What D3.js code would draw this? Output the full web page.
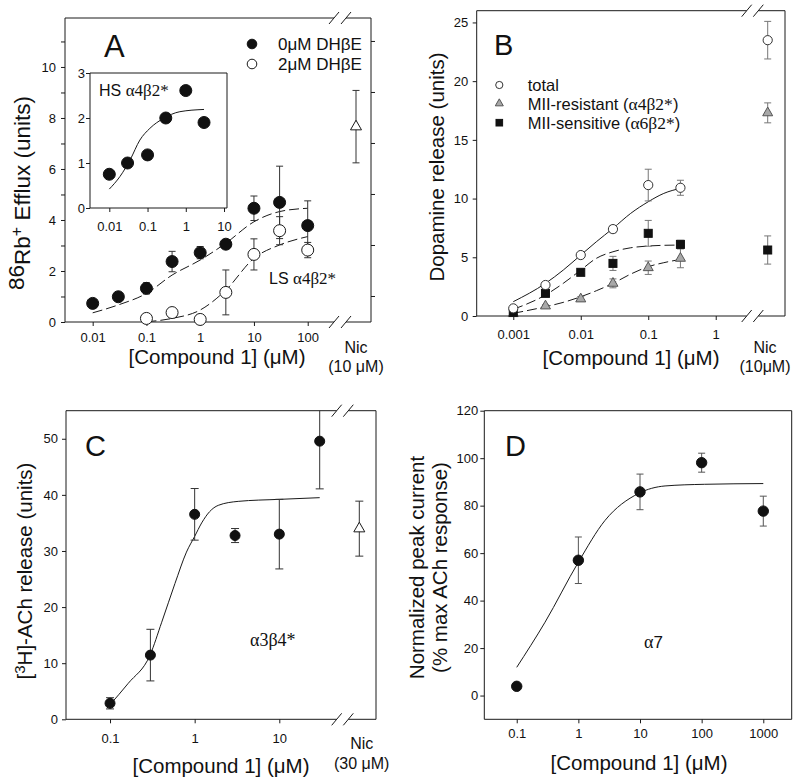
<!DOCTYPE html>
<html><head><meta charset="utf-8">
<script src="https://cdn.jsdelivr.net/npm/d3@7"></script>
<style>
body{margin:0;background:#fff}
svg{display:block}
text{font-family:"Liberation Sans",Arial,Helvetica,sans-serif;fill:#111}
</style>
</head><body>
<svg id="c" width="800" height="784"></svg>
<script>
// ---------------- DATA ----------------
// Panel A (86Rb+ efflux)
const concA0 = [0.01, 0.03, 0.1, 0.3, 1, 3, 10, 30, 100];
const effluxA0 = [0.73, 0.99, 1.32, 2.37, 2.72, 3.05, 4.46, 4.69, 3.78];
const errA0 = [0, 0, 0.22, 0.4, 0.24, 0.17, 0.48, 1.42, 0.97];
const concA2 = [0.1, 0.3, 1, 3, 10, 30, 100];
const effluxA2 = [0.14, 0.37, 0.1, 1.16, 2.65, 3.58, 2.82];
const errA2 = [0.05, 0.05, 0.08, 0.88, 0.61, 0.55, 0.3];
const nicA = 7.66, nicErrA = 1.42;
const fitA0x = [0.01, 0.03, 0.1, 0.3, 1, 3, 10, 30, 100];
const fitA0y = [0.36, 0.67, 1.12, 1.84, 2.43, 3.09, 3.93, 4.33, 4.46];
const fitA2x = [0.1, 0.3, 1, 3, 10, 30, 100];
const fitA2y = [0.01, 0.14, 0.47, 1.25, 2.5, 3.02, 3.35];
const xTicksA = [0.01, 0.1, 1, 10, 100];
const yTicksA = [0, 2, 4, 6, 8, 10];
// Inset (HS a4b2*)
const concIn = [0.01, 0.03, 0.1, 0.3, 1, 3];
const effluxIn = [0.75, 1.0, 1.18, 2.0, 2.61, 1.9];
const fitInx = [0.01, 0.019, 0.035, 0.063, 0.115, 0.26, 0.7, 3];
const fitIny = [0.42, 0.70, 1.07, 1.51, 1.77, 1.99, 2.14, 2.19];
const xTicksIn = [0.01, 0.1, 1, 10];
const yTicksIn = [0, 1, 2, 3];
// Panel B (dopamine release)
const concB = [0.001, 0.003, 0.01, 0.03, 0.1, 0.3];
const totalB = [0.65, 2.64, 5.19, 7.4, 11.15, 10.92];
const totalErrB = [0.1, 0.2, 0.2, 0.3, 1.35, 0.64];
const resistB = [0.2, 0.85, 1.45, 2.78, 4.11, 4.91];
const resistErrB = [0.1, 0.1, 0.2, 0.38, 0.57, 0.8];
const sensB = [0.31, 1.93, 3.72, 4.48, 7.04, 6.1];
const sensErrB = [0.1, 0.3, 0.2, 0.6, 1.1, 0.35];
const nicB = {total: 23.49, resist: 17.3, sens: 5.62};
const nicErrB = {total: 1.6, resist: 0.85, sens: 1.2};
const fitBx = [0.001, 0.003, 0.0055, 0.01, 0.017, 0.03, 0.055, 0.1, 0.17, 0.3];
const fitTotalB = [1.22, 2.78, 3.91, 5.19, 6.32, 7.46, 8.74, 9.73, 10.44, 10.87];
const fitSensB = [0.57, 1.79, 2.78, 3.91, 4.91, 5.47, 5.81, 5.96, 6.02, 6.04];
const fitResistB = [0.23, 0.79, 1.16, 1.64, 2.15, 2.78, 3.57, 4.2, 4.54, 4.82];
const xTicksB = [0.001, 0.01, 0.1, 1];
const yTicksB = [0, 5, 10, 15, 20, 25];
// Panel C ([3H]-ACh release)
const concC = [0.1, 0.3, 1, 3, 10, 30];
const achC = [2.85, 11.44, 36.53, 32.75, 33.0, 49.57];
const errC = [1.0, 4.6, 4.6, 1.25, 6.2, 8.5];
const nicC = 33.98, nicErrC = 4.9;
const fitCx = [0.1, 0.164, 0.297, 0.408, 0.585, 0.8, 1.0, 1.21, 1.5, 1.9, 3.27, 10, 30];
const fitCy = [2.6, 6.4, 11.44, 17.3, 24.2, 29.8, 32.6, 35.0, 37.0, 38.13, 38.84, 39.2, 39.5];
const xTicksC = [0.1, 1, 10];
const yTicksC = [0, 10, 20, 30, 40, 50];
// Panel D (a7 peak current)
const concD = [0.1, 1, 10, 100, 1000];
const currD = [3.9, 57, 85.8, 98.1, 77.7];
const errD = [0, 9.8, 7.5, 4, 6.3];
const fitDx = [0.1, 0.288, 1, 2.71, 9.4, 25.5, 112, 1000];
const fitDy = [11.9, 30.9, 56.2, 73.8, 85.1, 88.3, 89, 89.3];
const xTicksD = [0.1, 1, 10, 100, 1000];
const yTicksD = [0, 20, 40, 60, 80, 100, 120];

// ---------------- HELPERS ----------------
const SANS = '"Liberation Sans", Arial, Helvetica, sans-serif';
const SERIF = '"Liberation Serif", "Times New Roman", serif';
const INK = '#1a1a1a';
const svg = d3.select('#c');
const zip = (xs, ys, es) => xs.map((c, i) => ({c: c, v: ys[i], e: es ? es[i] : 0}));

function panel(o) {
  const g = svg.append('g');
  const x = d3.scaleLog().domain(o.xDomain).range([o.left, o.xEnd]);
  const y = d3.scaleLinear().domain(o.yDomain).range([o.bottom, o.top]);
  if (o.bg) g.append('rect').attr('x', o.left).attr('y', o.top)
      .attr('width', o.right - o.left).attr('height', o.bottom - o.top).attr('fill', '#fff');
  const fr = g.append('g').attr('stroke', INK).attr('stroke-width', 1).attr('fill', 'none');
  const L = (x1, y1, x2, y2) => fr.append('line').attr('x1', x1).attr('y1', y1).attr('x2', x2).attr('y2', y2);
  L(o.left, o.top, o.left, o.bottom);
  L(o.right, o.top, o.right, o.bottom);
  if (o.slashes) {
    const [s1, s2] = o.slashes;
    [o.top, o.bottom].forEach(yy => {
      L(o.left, yy, s1, yy); L(s2, yy, o.right, yy);
      L(s1 - 5, yy + 6, s1 + 5, yy - 6); L(s2 - 5, yy + 6, s2 + 5, yy - 6);
    });
  } else {
    L(o.left, o.top, o.right, o.top); L(o.left, o.bottom, o.right, o.bottom);
  }
  const fs = o.tickFont || 13;
  const ax = g.append('g').attr('transform', `translate(0,${o.bottom})`)
    .call(d3.axisBottom(x).tickValues(o.xTicks).tickFormat(d => String(d)).tickSize(4).tickPadding(o.xPad));
  const ay = g.append('g').attr('transform', `translate(${o.left},0)`)
    .call(d3.axisLeft(y).tickValues(o.yTicksAll || o.yTicks)
      .tickFormat(d => o.yTicks.includes(d) ? String(d) : '').tickSize(4).tickPadding(o.yPad));
  [ax, ay].forEach(a => {
    a.select('.domain').remove();
    a.selectAll('line').attr('stroke', INK);
    a.selectAll('text').attr('font-size', fs).attr('font-family', SANS).attr('fill', '#111');
  });
  return {g, x, y, o};
}

function fitLine(P, xs, ys, dash) {
  const line = d3.line().x(d => P.x(d[0])).y(d => P.y(d[1])).curve(d3.curveMonotoneX);
  P.g.append('path').datum(xs.map((c, i) => [c, ys[i]]))
    .attr('d', line).attr('fill', 'none').attr('stroke', INK).attr('stroke-width', 1)
    .attr('stroke-dasharray', dash || null);
}

function errBars(P, pts, color, cap) {
  pts.forEach(p => {
    if (!p.e) return;
    const cx = p.px != null ? p.px : P.x(p.c);
    const y1 = P.y(p.v - p.e), yRaw = P.y(p.v + p.e);
    const y2 = Math.max(P.o.top, yRaw);
    const gg = P.g.append('g').attr('stroke', color).attr('stroke-width', 1);
    gg.append('line').attr('x1', cx).attr('x2', cx).attr('y1', y1).attr('y2', y2);
    gg.append('line').attr('x1', cx - cap).attr('x2', cx + cap).attr('y1', y1).attr('y2', y1);
    if (yRaw >= P.o.top) gg.append('line').attr('x1', cx - cap).attr('x2', cx + cap).attr('y1', y2).attr('y2', y2);
  });
}

function mark(g, type, cx, cy, s, fill, stroke) {
  if (type === 'circle') {
    g.append('circle').attr('cx', cx).attr('cy', cy).attr('r', s).attr('fill', fill).attr('stroke', stroke).attr('stroke-width', 1);
  } else if (type === 'square') {
    g.append('rect').attr('x', cx - s).attr('y', cy - s).attr('width', 2 * s).attr('height', 2 * s).attr('fill', fill).attr('stroke', stroke).attr('stroke-width', 1);
  } else {
    const h = s * 1.75;
    g.append('path').attr('d', `M${cx},${cy - 2 * h / 3}L${cx + s},${cy + h / 3}L${cx - s},${cy + h / 3}Z`)
      .attr('fill', fill).attr('stroke', stroke).attr('stroke-width', 1);
  }
}

function markers(P, pts, type, s, fill, stroke) {
  pts.forEach(p => mark(P.g, type, p.px != null ? p.px : P.x(p.c), P.y(p.v), s, fill, stroke));
}

function txt(x, y, str, size, opts) {
  opts = opts || {};
  const t = svg.append('text').attr('x', x).attr('y', y).attr('font-size', size)
    .attr('text-anchor', opts.anchor || 'start').attr('fill', '#111');
  if (str) t.text(str);
  if (opts.rotate) t.attr('transform', `rotate(-90,${x},${y})`);
  return t;
}

function greekLabel(x, y, parts, size) {
  const t = txt(x, y, '', size);
  parts.forEach(p => t.append('tspan').attr('font-family', p[1] ? SERIF : SANS)
    .attr('font-size', p[1] ? size + 1 : size).text(p[0]));
  return t;
}

// ---------------- PANEL A ----------------
const A = panel({left: 65, right: 371, top: 18, bottom: 322, xEnd: 337,
  xDomain: [Math.pow(10, -2.515), Math.pow(10, 2.545)], yDomain: [0, 11.92],
  slashes: [334, 346], xTicks: xTicksA, yTicks: yTicksA, yTicksAll: d3.range(0, 12),
  xPad: 7, yPad: 5});
[1, 3, 5, 7, 9, 11].forEach(v => A.g.append('line').attr('x1', 371).attr('x2', 375)
  .attr('y1', A.y(v)).attr('y2', A.y(v)).attr('stroke', INK));
fitLine(A, fitA0x, fitA0y, '10,4');
fitLine(A, fitA2x, fitA2y, '10,4');
const ptsA0 = zip(concA0, effluxA0, errA0), ptsA2 = zip(concA2, effluxA2, errA2);
const nicPtA = [{c: null, v: nicA, e: nicErrA, px: 356}];
errBars(A, ptsA2, '#333', 3.5); errBars(A, ptsA0, '#333', 3.5); errBars(A, nicPtA, '#333', 3.5);
markers(A, ptsA2, 'circle', 6, '#fff', INK);
markers(A, ptsA0, 'circle', 6, '#111', '#111');
markers(A, nicPtA, 'triangle', 5.5, '#fff', INK);
txt(104, 57, 'A', 31);
mark(svg, 'circle', 252, 44, 4.8, '#111', '#111');
mark(svg, 'circle', 252, 64, 4.8, '#fff', INK);
txt(278, 50, '0\u03BCM DH\u03B2E', 17);
txt(278, 70, '2\u03BCM DH\u03B2E', 17);
greekLabel(269, 284, [['LS ', 0], ['\u03B14\u03B22*', 1]], 16);
txt(217, 363.5, '[Compound 1] (\u03BCM)', 20.5, {anchor: 'middle'});
txt(356, 353, 'Nic', 16, {anchor: 'middle'});
txt(356, 372, '(10 \u03BCM)', 16, {anchor: 'middle'});
{
  const t = txt(30, 193, '', 22.5, {anchor: 'middle', rotate: true});
  t.append('tspan').attr('dy', -6).text('86');
  t.append('tspan').attr('dy', 6).text('Rb');
  t.append('tspan').attr('dy', -8).attr('font-size', 16).text('+');
  t.append('tspan').attr('dy', 8).text(' Efflux (units)');
}
// Inset
const I = panel({left: 90, right: 227, top: 73, bottom: 208, xEnd: 227, bg: true,
  xDomain: [Math.pow(10, -2.505), Math.pow(10, 1.078)], yDomain: [0, 3],
  xTicks: xTicksIn, yTicks: yTicksIn, xPad: 10, yPad: 1});
fitLine(I, fitInx, fitIny, null);
markers(I, zip(concIn, effluxIn), 'circle', 6, '#111', '#111');
greekLabel(99, 96, [['HS ', 0], ['\u03B14\u03B22*', 1]], 16);

// ---------------- PANEL B ----------------
const B = panel({left: 476.7, right: 785, top: 10.7, bottom: 316, xEnd: 750,
  xDomain: [Math.pow(10, -3.542), Math.pow(10, 0.508)], yDomain: [0, 26],
  slashes: [746.7, 758.3], xTicks: xTicksB, yTicks: yTicksB, xPad: 10, yPad: 4.5});
fitLine(B, fitBx, fitTotalB, null);
fitLine(B, fitBx, fitSensB, '10,4');
fitLine(B, fitBx, fitResistB, '10,4');
const ptsT = zip(concB, totalB, totalErrB), ptsR = zip(concB, resistB, resistErrB), ptsS = zip(concB, sensB, sensErrB);
const nx = 767.7;
ptsT.push({v: nicB.total, e: nicErrB.total, px: nx});
ptsR.push({v: nicB.resist, e: nicErrB.resist, px: nx});
ptsS.push({v: nicB.sens, e: nicErrB.sens, px: nx});
errBars(B, ptsR, '#777', 3.5); errBars(B, ptsS, '#777', 3.5); errBars(B, ptsT, '#777', 3.5);
markers(B, ptsR, 'triangle', 5, '#a8a8a8', '#555');
markers(B, ptsS, 'square', 4, '#111', '#111');
markers(B, ptsT, 'circle', 4.6, '#fff', '#333');
txt(494, 55, 'B', 29);
mark(svg, 'circle', 499.3, 85, 3.6, '#fff', '#333');
mark(svg, 'triangle', 499.3, 103.5, 4, '#a8a8a8', '#555');
mark(svg, 'square', 499.3, 122.7, 3.3, '#111', '#111');
txt(527.7, 91, 'total', 16.5);
greekLabel(527.7, 109.5, [['MII-resistant (', 0], ['\u03B14\u03B22*', 1], [')', 0]], 16.5);
greekLabel(527.7, 128.5, [['MII-sensitive (', 0], ['\u03B16\u03B22*', 1], [')', 0]], 16.5);
txt(631, 365, '[Compound 1] (\u03BCM)', 20.5, {anchor: 'middle'});
txt(765, 353, 'Nic', 16, {anchor: 'middle'});
txt(765, 372, '(10\u03BCM)', 16, {anchor: 'middle'});
txt(443.5, 167, 'Dopamine release (units)', 20.5, {anchor: 'middle', rotate: true});

// ---------------- PANEL C ----------------
const C = panel({left: 66, right: 376, top: 410.7, bottom: 719.3, xEnd: 340,
  xDomain: [Math.pow(10, -1.52), Math.pow(10, 1.717)], yDomain: [0, 55],
  slashes: [336.7, 348.3], xTicks: xTicksC, yTicks: yTicksC, xPad: 10, yPad: 4});
fitLine(C, fitCx, fitCy, null);
const ptsC = zip(concC, achC, errC);
const nicPtC = [{v: nicC, e: nicErrC, px: 359.3}];
errBars(C, ptsC, '#333', 4); errBars(C, nicPtC, '#333', 4);
markers(C, ptsC, 'circle', 5, '#111', '#111');
markers(C, nicPtC, 'triangle', 5.5, '#fff', INK);
txt(85, 456, 'C', 29);
greekLabel(250, 646, [['\u03B13\u03B24*', 1]], 17);
txt(221, 773, '[Compound 1] (\u03BCM)', 20.5, {anchor: 'middle'});
txt(361.7, 749, 'Nic', 16, {anchor: 'middle'});
txt(361.7, 769, '(30 \u03BCM)', 16, {anchor: 'middle'});
{
  const t = txt(32, 571, '', 20.5, {anchor: 'middle', rotate: true});
  t.append('tspan').text('[');
  t.append('tspan').attr('dy', -7).attr('font-size', 15).text('3');
  t.append('tspan').attr('dy', 7).text('H]-ACh release (units)');
}

// ---------------- PANEL D ----------------
const D = panel({left: 484.3, right: 791.7, top: 410.7, bottom: 719.3, xEnd: 791.7,
  xDomain: [Math.pow(10, -1.526), Math.pow(10, 3.461)], yDomain: [-10, 120],
  xTicks: xTicksD, yTicks: yTicksD, xPad: 5, yPad: 2});
fitLine(D, fitDx, fitDy, null);
const ptsD = zip(concD, currD, errD);
errBars(D, ptsD, '#555', 3.5);
markers(D, ptsD, 'circle', 5.2, '#111', '#111');
txt(505, 456, 'D', 29);
greekLabel(644, 648, [['\u03B1', 1], ['7', 0]], 17);
txt(639, 770, '[Compound 1] (\u03BCM)', 20.5, {anchor: 'middle'});
txt(423.5, 567.5, 'Normalized peak current', 20.5, {anchor: 'middle', rotate: true});
txt(446.5, 567.5, '(% max ACh response)', 20.5, {anchor: 'middle', rotate: true});
</script>
</body></html>
